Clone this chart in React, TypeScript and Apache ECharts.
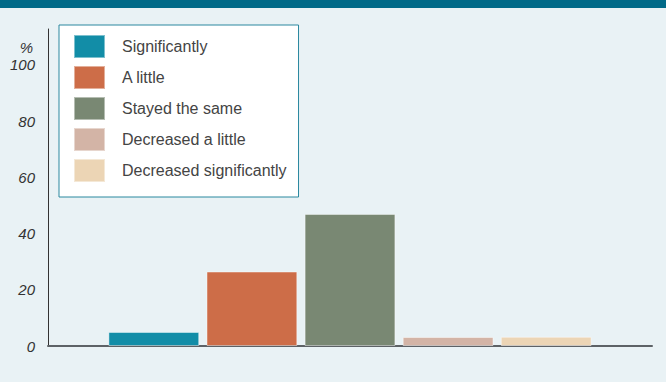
import React, { useEffect, useRef } from "react";
import * as echarts from "echarts";

const categories = [""];
const seriesNames = [
  "Significantly",
  "A little",
  "Stayed the same",
  "Decreased a little",
  "Decreased significantly",
];
const seriesValues = [5, 26.5, 47, 3.2, 3.3];
const seriesColors = ["#128da7", "#cd6d48", "#798873", "#d3b4a6", "#ecd5b5"];
const yTicks = [0, 20, 40, 60, 80, 100];

export default function App() {
  const ref = useRef<HTMLDivElement>(null);
  useEffect(() => {
    if (!ref.current) return;
    const chart = echarts.init(ref.current, null, { renderer: "svg" });
    const font = "'Liberation Sans', Arial, sans-serif";
    chart.setOption({
      animation: false,
      backgroundColor: "#e9f2f5",
      textStyle: { fontFamily: font },
      grid: { left: 48, right: 14, top: 29, bottom: 36, containLabel: false },
      legend: {
        orient: "vertical",
        left: 59,
        top: 25,
        icon: "rect",
        itemWidth: 31,
        itemHeight: 23,
        itemGap: 6,
        padding: [9, 12, 14, 14],
        backgroundColor: "#ffffff",
        borderColor: "#2a889f",
        borderWidth: 1,
        selectedMode: false,
        textStyle: {
          fontSize: 16,
          color: "#444",
          fontFamily: font,
          padding: [0, 0, 0, 12],
        },
        data: seriesNames,
      },
      graphic: [
        {
          type: "rect",
          left: 0,
          top: 0,
          shape: { width: 666, height: 8 },
          style: { fill: "#006a88" },
          silent: true,
        },
        {
          type: "text",
          right: 633,
          top: 40,
          style: {
            text: "%",
            fontSize: 15,
            fontStyle: "italic",
            fill: "#333",
            fontFamily: font,
          },
        },
      ],
      xAxis: {
        type: "category",
        data: categories,
        axisLine: { lineStyle: { color: "#5d6266", width: 2 } },
        axisTick: { show: false },
        axisLabel: { show: false },
      },
      yAxis: {
        type: "value",
        min: yTicks[0],
        max: 112.8,
        interval: 20,
        axisLine: { show: true, lineStyle: { color: "#333", width: 1 } },
        axisTick: { show: false },
        splitLine: { show: false },
        axisLabel: {
          showMaxLabel: false,
          margin: 13,
          fontSize: 15,
          fontStyle: "italic",
          color: "#333",
          fontFamily: font,
          formatter: (v: number) => (yTicks.includes(v) ? String(v) : ""),
        },
      },
      series: seriesNames.map((name, i) => ({
        name,
        type: "bar",
        data: [seriesValues[i]],
        barGap: "8%",
        barCategoryGap: "20%",
        itemStyle: {
          color: seriesColors[i],
          borderColor: "rgba(255,255,255,0.45)",
          borderWidth: 1,
        },
      })),
    });
    return () => chart.dispose();
  }, []);
  return (
    <div
      ref={ref}
      style={{ position: "absolute", left: 0, top: 0, width: 666, height: 382 }}
    />
  );
}
